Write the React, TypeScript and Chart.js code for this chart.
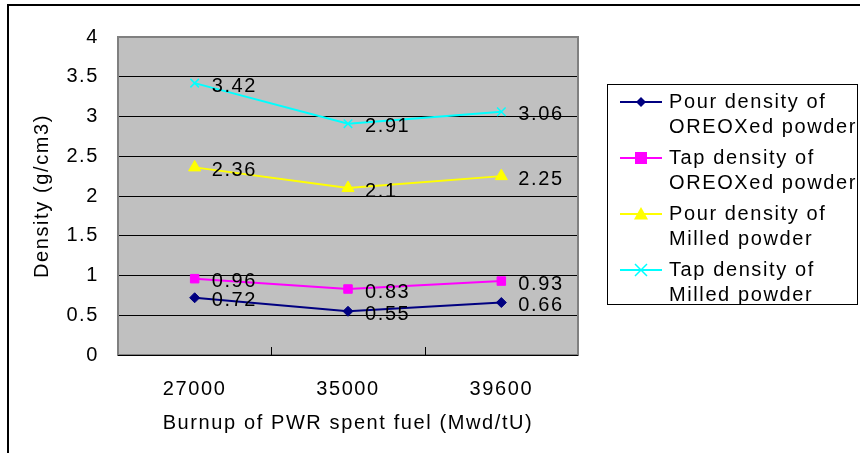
import React, { useEffect, useRef } from "react";
import { Chart, registerables } from "chart.js";

Chart.register(...registerables);

const categories = ["27000", "35000", "39600"];
const pourOreox = [0.72, 0.55, 0.66];
const tapOreox = [0.96, 0.83, 0.93];
const pourMilled = [2.36, 2.1, 2.25];
const tapMilled = [3.42, 2.91, 3.06];
const seriesNames = [
  ["Pour density of", "OREOXed powder"],
  ["Tap density of", "OREOXed powder"],
  ["Pour density of", "Milled powder"],
  ["Tap density of", "Milled powder"],
];
const seriesColors = ["#000080", "#ff00ff", "#ffff00", "#00ffff"];
const pointStyles = ["rectRot", "rect", "triangle", "crossRot"];
const pointSizes = [5, 6, 7, 6];
const yMin = 0;
const yMax = 4;
const yStep = 0.5;
const xTitle = "Burnup of PWR spent fuel (Mwd/tU)";
const yTitle = "Density (g/cm3)";

const FONT = "'Liberation Sans', Arial, sans-serif";
const SPACING = "1.6px";

const decorPlugin = {
  id: "decor",
  beforeDraw(chart: any) {
    const { ctx, chartArea: a } = chart;
    (ctx as any).letterSpacing = SPACING;
    ctx.save();
    ctx.fillStyle = "#c0c0c0";
    ctx.fillRect(a.left, a.top, a.right - a.left, a.bottom - a.top);
    ctx.restore();
  },
  afterDatasetsDraw(chart: any) {
    const { ctx, chartArea: a } = chart;
    ctx.save();
    ctx.letterSpacing = SPACING;
    // plot frame
    ctx.strokeStyle = "#808080";
    ctx.lineWidth = 2;
    ctx.strokeRect(a.left, a.top, a.right - a.left, a.bottom - a.top);
    ctx.strokeStyle = "#000";
    ctx.lineWidth = 1;
    ctx.beginPath();
    ctx.moveTo(a.left, a.bottom + 0.5);
    ctx.lineTo(a.right, a.bottom + 0.5);
    ctx.stroke();
    // inner category tick marks at boundaries
    const xs = chart.scales.x;
    for (let i = 1; i < categories.length; i++) {
      const px = Math.round((xs.getPixelForValue(i - 1) + xs.getPixelForValue(i)) / 2) + 0.5;
      ctx.beginPath();
      ctx.moveTo(px, a.bottom);
      ctx.lineTo(px, a.bottom - 8);
      ctx.stroke();
    }
    // data labels
    ctx.fillStyle = "#000";
    ctx.font = `20px ${FONT}`;
    ctx.textAlign = "left";
    ctx.textBaseline = "middle";
    chart.data.datasets.forEach((ds: any, di: number) => {
      const meta = chart.getDatasetMeta(di);
      meta.data.forEach((pt: any, i: number) => {
        ctx.fillText(String(ds.data[i]), pt.x + 17, pt.y + 3);
      });
    });
    ctx.restore();
  },
  afterDraw(chart: any) {
    const { ctx } = chart;
    ctx.save();
    ctx.letterSpacing = SPACING;
    // outer frame (cropped)
    ctx.strokeStyle = "#000";
    ctx.lineWidth = 2;
    ctx.beginPath();
    ctx.moveTo(8, 453);
    ctx.lineTo(8, 5);
    ctx.lineTo(860, 5);
    ctx.stroke();
    // legend
    const lx = 607, ly = 84, lw = 250, lh = 220;
    ctx.strokeStyle = "#000";
    ctx.lineWidth = 1;
    ctx.strokeRect(lx + 0.5, ly + 0.5, lw, lh);
    ctx.font = `20px ${FONT}`;
    ctx.textAlign = "left";
    ctx.textBaseline = "middle";
    chart.data.datasets.forEach((ds: any, di: number) => {
      const y1 = 102 + di * 56;
      const y2 = y1 + 25;
      ctx.strokeStyle = ds.borderColor;
      ctx.lineWidth = 2;
      ctx.beginPath();
      ctx.moveTo(620, y1);
      ctx.lineTo(662, y1);
      ctx.stroke();
      ctx.fillStyle = ds.pointBackgroundColor;
      ctx.strokeStyle = ds.borderColor;
      ctx.lineWidth = 1.5;
      const style = ds.pointStyle;
      const r = ds.pointRadius;
      const ex = 641;
      if (style === "rectRot") {
        ctx.beginPath();
        ctx.moveTo(ex, y1 - r); ctx.lineTo(ex + r, y1); ctx.lineTo(ex, y1 + r); ctx.lineTo(ex - r, y1);
        ctx.closePath(); ctx.fill();
      } else if (style === "rect") {
        ctx.fillRect(ex - r, y1 - r, 2 * r, 2 * r);
      } else if (style === "triangle") {
        ctx.beginPath();
        ctx.moveTo(ex, y1 - r); ctx.lineTo(ex + r, y1 + r * 0.8); ctx.lineTo(ex - r, y1 + r * 0.8);
        ctx.closePath(); ctx.fill();
      } else {
        ctx.beginPath();
        ctx.moveTo(ex - r, y1 - r); ctx.lineTo(ex + r, y1 + r);
        ctx.moveTo(ex + r, y1 - r); ctx.lineTo(ex - r, y1 + r);
        ctx.stroke();
      }
      ctx.fillStyle = "#000";
      ctx.fillText(seriesNames[di][0], 669, y1);
      ctx.fillText(seriesNames[di][1], 669, y2);
    });
    ctx.restore();
  },
};

export default function App() {
  const ref = useRef<HTMLCanvasElement>(null);
  useEffect(() => {
    if (!ref.current) return;
    const values = [pourOreox, tapOreox, pourMilled, tapMilled];
    const chart = new Chart(ref.current, {
      type: "line",
      data: {
        labels: categories,
        datasets: values.map((v, i) => ({
          label: seriesNames[i].join(" "),
          data: v,
          borderColor: seriesColors[i],
          backgroundColor: seriesColors[i],
          pointBackgroundColor: seriesColors[i],
          pointBorderColor: seriesColors[i],
          pointBorderWidth: i === 3 ? 1.5 : 1,
          pointStyle: pointStyles[i] as any,
          pointRadius: pointSizes[i],
          borderWidth: 2,
          tension: 0,
          fill: false,
        })),
      },
      options: {
        responsive: false,
        animation: false,
        devicePixelRatio: 1,
        layout: { padding: { left: 0, top: 37, right: 282, bottom: 0 } },
        plugins: { legend: { display: false }, tooltip: { enabled: false } },
        scales: {
          x: {
            offset: true,
            grid: { display: false, drawTicks: false },
            border: { display: false },
            ticks: { color: "#000", font: { family: FONT, size: 20 }, padding: 22 },
            title: {
              display: true,
              text: xTitle,
              color: "#000",
              font: { family: FONT, size: 20 },
              padding: { top: 0, bottom: 18 },
            },
            afterFit: (s: any) => { s.height = 98; },
          },
          y: {
            min: yMin,
            max: yMax,
            grid: { color: "#000", lineWidth: 1, drawTicks: false },
            border: { display: false },
            ticks: {
              stepSize: yStep,
              color: "#000",
              font: { family: FONT, size: 20 },
              padding: 19,
              callback: (v: any) => String(v),
            },
            title: {
              display: true,
              text: yTitle,
              color: "#000",
              font: { family: FONT, size: 20 },
              padding: { top: 30, bottom: 0 },
            },
            afterFit: (s: any) => { s.width = 118; },
          },
        },
      },
      plugins: [decorPlugin],
    });
    return () => chart.destroy();
  }, []);
  return (
    <div style={{ position: "absolute", left: 0, top: 0, width: 860, height: 453 }}>
      <canvas ref={ref} width={860} height={453} style={{ display: "block" }} />
    </div>
  );
}
